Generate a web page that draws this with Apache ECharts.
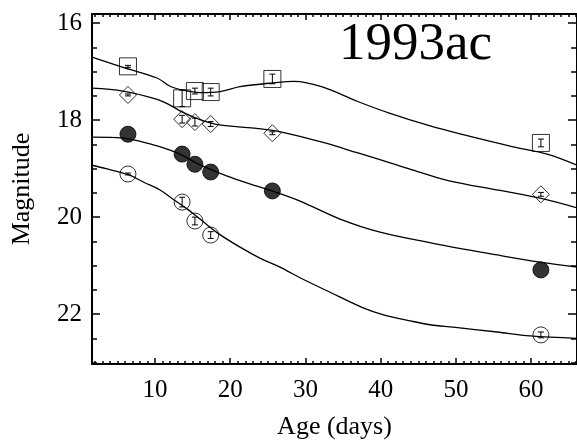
<!DOCTYPE html>
<html>
<head>
<meta charset="utf-8">
<script src="https://cdn.jsdelivr.net/npm/echarts@6/dist/echarts.min.js"></script>
<style>
  html, body { margin: 0; padding: 0; background: #fff; }
  #chart { width: 577px; height: 441px; }
</style>
</head>
<body>
<div id="chart"></div>
<script>
// SN 1993ac light curves: observed epochs and magnitudes per band
const ageDays = [6.4, 13.6, 15.3, 17.4, 25.6, 61.3];
const magSquare  = [16.89, 17.55, 17.40, 17.42, 17.15, 18.47];
const errSquare  = [0.02, 0.17, 0.06, 0.08, 0.10, 0.08];
const magDiamond = [17.48, 17.98, 18.04, 18.08, 18.27, 19.53];
const errDiamond = [0.02, 0.08, 0.08, 0.05, 0.03, 0.04];
const magFilled  = [18.29, 18.70, 18.91, 19.07, 19.46, 21.09];
const magOpen    = [19.11, 19.69, 20.08, 20.37, null, 22.43];
const errOpen    = [0.02, 0.10, 0.08, 0.07, null, 0.06];

// Fitted template curves [age, magnitude]
const fitSquare = [[1.62,16.70],[5.74,16.91],[10.27,17.13],[11.99,17.30],[13.72,17.38],[15.98,17.43],[18.64,17.41],[21.30,17.31],[25.69,17.23],[28.5,17.20],[32.34,17.32],[36.86,17.61],[41.25,17.86],[46.57,18.12],[50.96,18.30],[57.61,18.55],[62.13,18.70],[66.12,18.93]];
const fitDiamond = [[1.62,17.34],[5.74,17.40],[10.27,17.57],[11.99,17.69],[13.72,17.84],[15.98,17.99],[17.98,18.08],[20.5,18.13],[23.5,18.17],[27.0,18.25],[32.34,18.46],[36.86,18.67],[41.25,18.88],[44.31,19.03],[48.83,19.24],[55.88,19.45],[61.20,19.61],[66.12,19.81]];
const fitFilled = [[1.62,18.35],[5.74,18.37],[9.34,18.49],[11.99,18.62],[13.72,18.73],[15.45,18.88],[17.45,19.02],[19.5,19.15],[22.5,19.31],[25.56,19.46],[29.28,19.67],[34.60,20.04],[39.92,20.31],[46.97,20.54],[55.48,20.78],[61.20,20.93],[66.12,21.03]];
const fitOpen = [[1.62,18.93],[3.5,19.00],[6.54,19.13],[8.5,19.28],[10.66,19.44],[12.39,19.63],[14.26,19.83],[15.98,20.04],[18.24,20.32],[21.30,20.62],[24.0,20.85],[26.62,21.03],[29.28,21.25],[33.27,21.55],[37.5,21.86],[40.5,22.02],[43.91,22.14],[46.57,22.22],[49.63,22.27],[55.48,22.37],[59.87,22.45],[66.12,22.50]];

// Axis ticks
const xMajor = [10, 20, 30, 40, 50, 60];
const xMinor = [];
for (let d = 2; d <= 66; d++) if (d % 10 !== 0) xMinor.push(d);
const yMajor = [16, 18, 20, 22];
const yMinor = [16.5, 17, 17.5, 18.5, 19, 19.5, 20.5, 21, 21.5, 22.5, 23];

const X_MIN = 1.62, X_MAX = 66.1, Y_MIN = 15.81, Y_MAX = 23.03;
const FONT = '"Liberation Serif", "Times New Roman", serif';

function pairs(xs, ys) {
  const out = [];
  xs.forEach((x, i) => { if (ys[i] != null) out.push([x, ys[i]]); });
  return out;
}
function errTriples(xs, ys, es) {
  const out = [];
  xs.forEach((x, i) => { if (ys[i] != null && es[i] != null) out.push([x, ys[i], es[i]]); });
  return out;
}

function xAxisDef(pos, ticks, len, showLine, labels) {
  return {
    type: 'value', position: pos, min: X_MIN, max: X_MAX,
    axisLine: { show: showLine, onZero: false, lineStyle: { color: '#000', width: 2 } },
    axisTick: { show: true, inside: true, length: len, customValues: ticks, lineStyle: { color: '#000', width: 1.5 } },
    axisLabel: labels ? { show: true, customValues: xMajor, color: '#000', fontFamily: FONT, fontSize: 25, margin: 14 } : { show: false },
    splitLine: { show: false }
  };
}
function yAxisDef(pos, ticks, len, showLine, labels) {
  return {
    type: 'value', position: pos, inverse: true, min: Y_MIN, max: Y_MAX,
    axisLine: { show: showLine, onZero: false, lineStyle: { color: '#000', width: 2 } },
    axisTick: { show: true, inside: true, length: len, customValues: ticks, lineStyle: { color: '#000', width: 1.5 } },
    axisLabel: labels ? { show: true, customValues: yMajor, color: '#000', fontFamily: FONT, fontSize: 25, margin: 10 } : { show: false },
    splitLine: { show: false }
  };
}

const xAxes = [
  xAxisDef('bottom', xMajor, 6, true, true),
  xAxisDef('bottom', xMinor, 3, false, false),
  xAxisDef('top', xMajor, 6, true, false),
  xAxisDef('top', xMinor, 3, false, false)
];
Object.assign(xAxes[0], {
  name: 'Age (days)', nameLocation: 'middle', nameGap: 50,
  nameTextStyle: { color: '#000', fontFamily: FONT, fontSize: 26 }
});
const yAxes = [
  yAxisDef('left', yMajor, 8, true, true),
  yAxisDef('left', yMinor, 5, false, false),
  yAxisDef('right', yMajor, 9, true, false),
  yAxisDef('right', yMinor, 6, false, false)
];
Object.assign(yAxes[0], {
  name: 'Magnitude', nameLocation: 'middle', nameGap: 57,
  nameTextStyle: { color: '#000', fontFamily: FONT, fontSize: 26 }
});

function curve(data) {
  return {
    type: 'line', data: data, smooth: 0.35, symbol: 'none', z: 2,
    lineStyle: { color: '#000', width: 1.3 }, silent: true
  };
}
function points(data, symbol, size, filled) {
  return {
    type: 'scatter', data: data, symbol: symbol, symbolSize: size, z: 4,
    itemStyle: filled
      ? { color: '#000', borderColor: '#000', borderWidth: 1 }
      : { color: 'rgba(0,0,0,0)', borderColor: '#000', borderWidth: 1 },
    silent: true
  };
}
function errorBars(data) {
  return {
    type: 'custom', data: data, z: 5, silent: true,
    renderItem: function (params, api) {
      const x = api.value(0), y = api.value(1), e = api.value(2);
      const top = api.coord([x, y - e]);
      const bot = api.coord([x, y + e]);
      const c = 3;
      return {
        type: 'group',
        children: [
          { type: 'line', shape: { x1: top[0], y1: top[1], x2: bot[0], y2: bot[1] }, style: { stroke: '#000', lineWidth: 1 } },
          { type: 'line', shape: { x1: top[0] - c, y1: top[1], x2: top[0] + c, y2: top[1] }, style: { stroke: '#000', lineWidth: 1 } },
          { type: 'line', shape: { x1: bot[0] - c, y1: bot[1], x2: bot[0] + c, y2: bot[1] }, style: { stroke: '#000', lineWidth: 1 } }
        ]
      };
    }
  };
}

const chart = echarts.init(document.getElementById('chart'), null, { renderer: 'canvas' });
chart.setOption({
  animation: false,
  backgroundColor: '#fff',
  grid: { left: 92, top: 14, width: 485, height: 350, containLabel: false, outerBoundsMode: 'none' },
  xAxis: xAxes,
  yAxis: yAxes,
  graphic: [{
    type: 'text', left: 339, top: 19,
    style: { text: '1993ac', fill: '#000', font: '53px ' + FONT }
  }],
  series: [
    curve(fitSquare),
    curve(fitDiamond),
    curve(fitFilled),
    curve(fitOpen),
    points(pairs(ageDays, magSquare), 'rect', 17, false),
    points(pairs(ageDays, magDiamond), 'diamond', 17, false),
    points(pairs(ageDays, magFilled), 'circle', 16, true),
    points(pairs(ageDays, magOpen), 'circle', 16, false),
    errorBars(errTriples(ageDays, magSquare, errSquare)),
    errorBars(errTriples(ageDays, magDiamond, errDiamond)),
    errorBars(errTriples(ageDays, magOpen, errOpen))
  ]
});
</script>
</body>
</html>
